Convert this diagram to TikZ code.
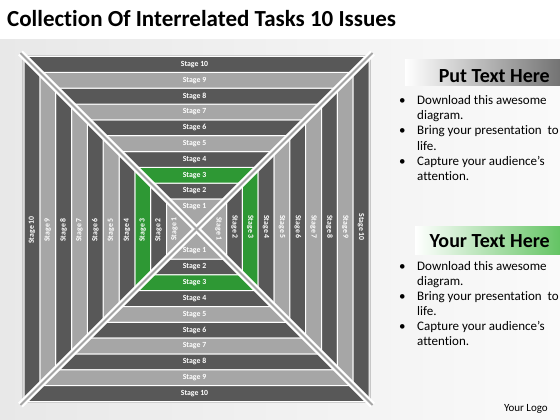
\documentclass[tikz,border=0pt]{standalone}
\usepackage{fontspec}
\setmainfont{Carlito}[Ligatures=NoCommon]
\definecolor{bandD}{RGB}{88,88,88}
\definecolor{bandL}{RGB}{166,166,166}
\definecolor{bandG}{RGB}{46,152,52}
\definecolor{railG}{RGB}{165,165,165}
\definecolor{barG}{RGB}{100,196,100}
\definecolor{barK}{RGB}{115,115,115}
\tikzset{
  band/.style={draw=white, line width=1pt},
  stagelbl/.style={text=white, font=\fontsize{7.8}{8}\selectfont\bfseries, inner sep=0pt},
  bodytxt/.style={anchor=base west, font=\fontsize{13}{15}\selectfont, inner sep=0pt},
  bullettxt/.style={anchor=base west, font=\fontsize{13}{15}\selectfont, inner sep=0pt},
  headtxt/.style={anchor=base east, font=\fontsize{20}{22}\selectfont\bfseries, inner sep=0pt},
}
\begin{document}
\begin{tikzpicture}[x=1pt,y=-1pt]
\useasboundingbox (0,0) rectangle (560,420);
\fill[white] (0,0) rectangle (560,420);
\shade[left color=black!9, right color=black!2] (0,40) rectangle (560,420);
% title
\node[anchor=base west, inner sep=0pt, font=\fontsize{23}{26}\selectfont\bfseries] (title) at (7,27) {Collection Of Interrelated Tasks 10 Issues};
% diagram
\begin{scope}[shift={(196.5,229)}]
  \draw[black!22, line width=1.6pt] (-173.5,-173.5) rectangle (173.5,173.5);
  \foreach \k/\c in {2/bandD,3/bandG,4/bandD,5/bandL,6/bandD,7/bandL,8/bandD,9/bandL,10/bandD} {
    \pgfmathsetmacro\ri{30+(\k-2)*15.8333}
    \pgfmathsetmacro\ro{30+(\k-1)*15.8333}
    \pgfmathsetmacro\rm{(\ri+\ro)/2}
    \foreach \a in {0,90,180,270} {
      \filldraw[band, fill=\c, rotate=\a] (-\ro,-\ro) -- (\ro,-\ro) -- (\ri,-\ri) -- (-\ri,-\ri) -- cycle;
    }
    \node[stagelbl] (t\k) at (-2,-\rm) {Stage \k};
    \node[stagelbl] (b\k) at (-2,\rm) {Stage \k};
    \node[stagelbl, rotate=90] (l\k) at (-\rm,1) {Stage \k};
    \node[stagelbl, rotate=-90] (r\k) at (\rm,-2) {Stage \k};
  }
  \foreach \a in {0,90,180,270} {
    \filldraw[band, fill=bandL, rotate=\a] (-30,-30) -- (30,-30) -- (0,0) -- cycle;
  }
  \node[stagelbl] (t1) at (-2,-22) {Stage 1};
  \node[stagelbl] (b1) at (-2,22) {Stage 1};
  \node[stagelbl, rotate=90] (l1) at (-22,0) {Stage 1};
  \node[stagelbl, rotate=-90] (r1) at (22,0) {Stage 1};
  \coordinate (ctl) at (-176,-176);
  \coordinate (cbr) at (176,176);
  \coordinate (ctr) at (176,-176);
  \coordinate (cbl) at (-176,176);
  \draw[white, line width=6.5pt] (ctl) -- (cbr);
  \draw[white, line width=6.5pt] (ctr) -- (cbl);
  \draw[railG, line width=2pt] (ctl) -- (cbr);
  \draw[railG, line width=2pt] (ctr) -- (cbl);
\end{scope}
% panel 1
\shade[left color=white, right color=barK] (405,60) rectangle (560,86);
\node[headtxt] (h1) at (550,82) {Put Text Here};
\foreach \y/\t [count=\i] in {105/Download this awesome,120/diagram.,135/Bring your presentation\ \ to,150/life.,165/Capture your audience’s,180/attention.} {
  \node[bodytxt] (p1l\i) at (417,\y) {\t};
}
\node[bullettxt] (p1b1) at (399,105) {•};
\node[bullettxt] (p1b2) at (399,135) {•};
\node[bullettxt] (p1b3) at (399,165) {•};
% panel 2
\shade[left color=white, right color=barG] (415,226) rectangle (560,254);
\node[headtxt] (h2) at (550,247) {Your Text Here};
\foreach \y/\t [count=\i] in {270/Download this awesome,285/diagram.,300/Bring your presentation\ \ to,315/life.,330/Capture your audience’s,345/attention.} {
  \node[bodytxt] (p2l\i) at (417,\y) {\t};
}
\node[bullettxt] (p2b1) at (399,270) {•};
\node[bullettxt] (p2b2) at (399,300) {•};
\node[bullettxt] (p2b3) at (399,330) {•};
\node[anchor=base east, inner sep=0pt, font=\fontsize{11}{13}\selectfont] (logo) at (548,411) {Your Logo};
\end{tikzpicture}
\end{document}
